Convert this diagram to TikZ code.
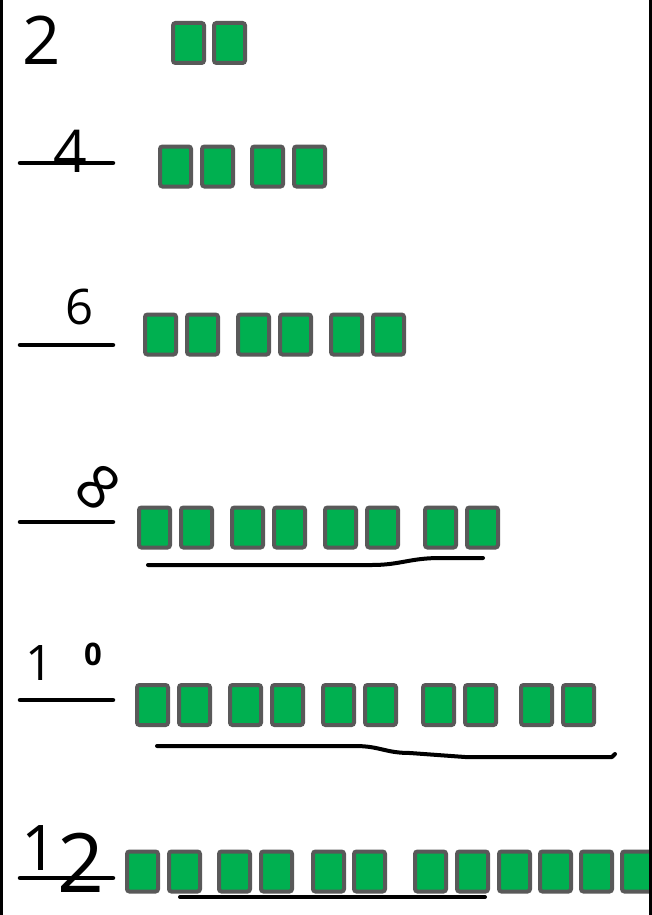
\documentclass[tikz,border=0pt]{standalone}
\usepackage{fontspec}
\setsansfont{Open Sans}
\usetikzlibrary{calc}
\definecolor{tileGreen}{RGB}{0,176,80}
\definecolor{tileGrey}{RGB}{89,89,89}
\tikzset{
  tile/.style={draw=tileGrey,fill=tileGreen,line width=4pt,rounded corners=2.5pt,minimum width=31pt,minimum height=40pt,inner sep=0pt},
  numeral/.style={inner sep=0pt,text=black},
  blank/.style={line width=4.5pt,line cap=round},
  penline/.style={line width=4pt,line cap=round,line join=round}
}
\newcommand{\digitsize}[1]{\fontsize{#1}{#1}\selectfont}

\begin{document}
\begin{tikzpicture}[x=1pt,y=-1pt]
\useasboundingbox (0,0) rectangle (652,915);
\fill[white] (0,0) rectangle (652,915);
\foreach \row/\ypos/\xlist in {1/43/{171,212},2/166.5/{158,200,250,292},3/334.5/{143,185,236,278,329,371},4/527.5/{137,179,230,272,323,365,423,465},5/705/{135,177,228,270,321,363,421,463,519,561},6/871.5/{125,167,217,259,311,352,413,455,497,538,579,620}}
  \foreach \xpos [count=\i] in \xlist
    \node[tile] (r\row t\i) at (\xpos+17.5,\ypos) {};
\node[numeral,font=\sffamily\digitsize{67}] (two) at (42,40) {2};
\node[numeral,font=\sffamily\digitsize{59}] (four) at (70,151) {4};
\node[numeral,font=\sffamily\digitsize{49}] (six) at (80,307) {6};
\node[numeral,font=\sffamily\digitsize{60},rotate=-40] (eight) at (98,487) {8};
\node[numeral,anchor=base west,font=\sffamily\digitsize{49}] (ten) at (25,680) {1\hspace{31pt}\raisebox{15pt}{\bfseries\digitsize{31}0}};
\node[numeral,anchor=base west,font=\sffamily\digitsize{63}] (twelve) at (21,870) {1\raisebox{-22pt}{\digitsize{82}2}};
\foreach \ypos in {163,345,522,700,878}
  \draw[blank] (20,\ypos) -- (113,\ypos);
\draw[penline] (148,565) -- (372,565) .. controls (400,565) and (410,558) .. (440,558) -- (483,558);
\draw[penline] (157,746) -- (355,746) .. controls (380,746) and (385,753) .. (410,753) -- (465,757) -- (612,757) -- (615,754);
\draw[penline] (180,897) -- (485,897);
\draw[line width=3pt] (1.5,0) -- (1.5,915);
\draw[line width=3pt] (650.5,0) -- (650.5,915);
\end{tikzpicture}
\end{document}
